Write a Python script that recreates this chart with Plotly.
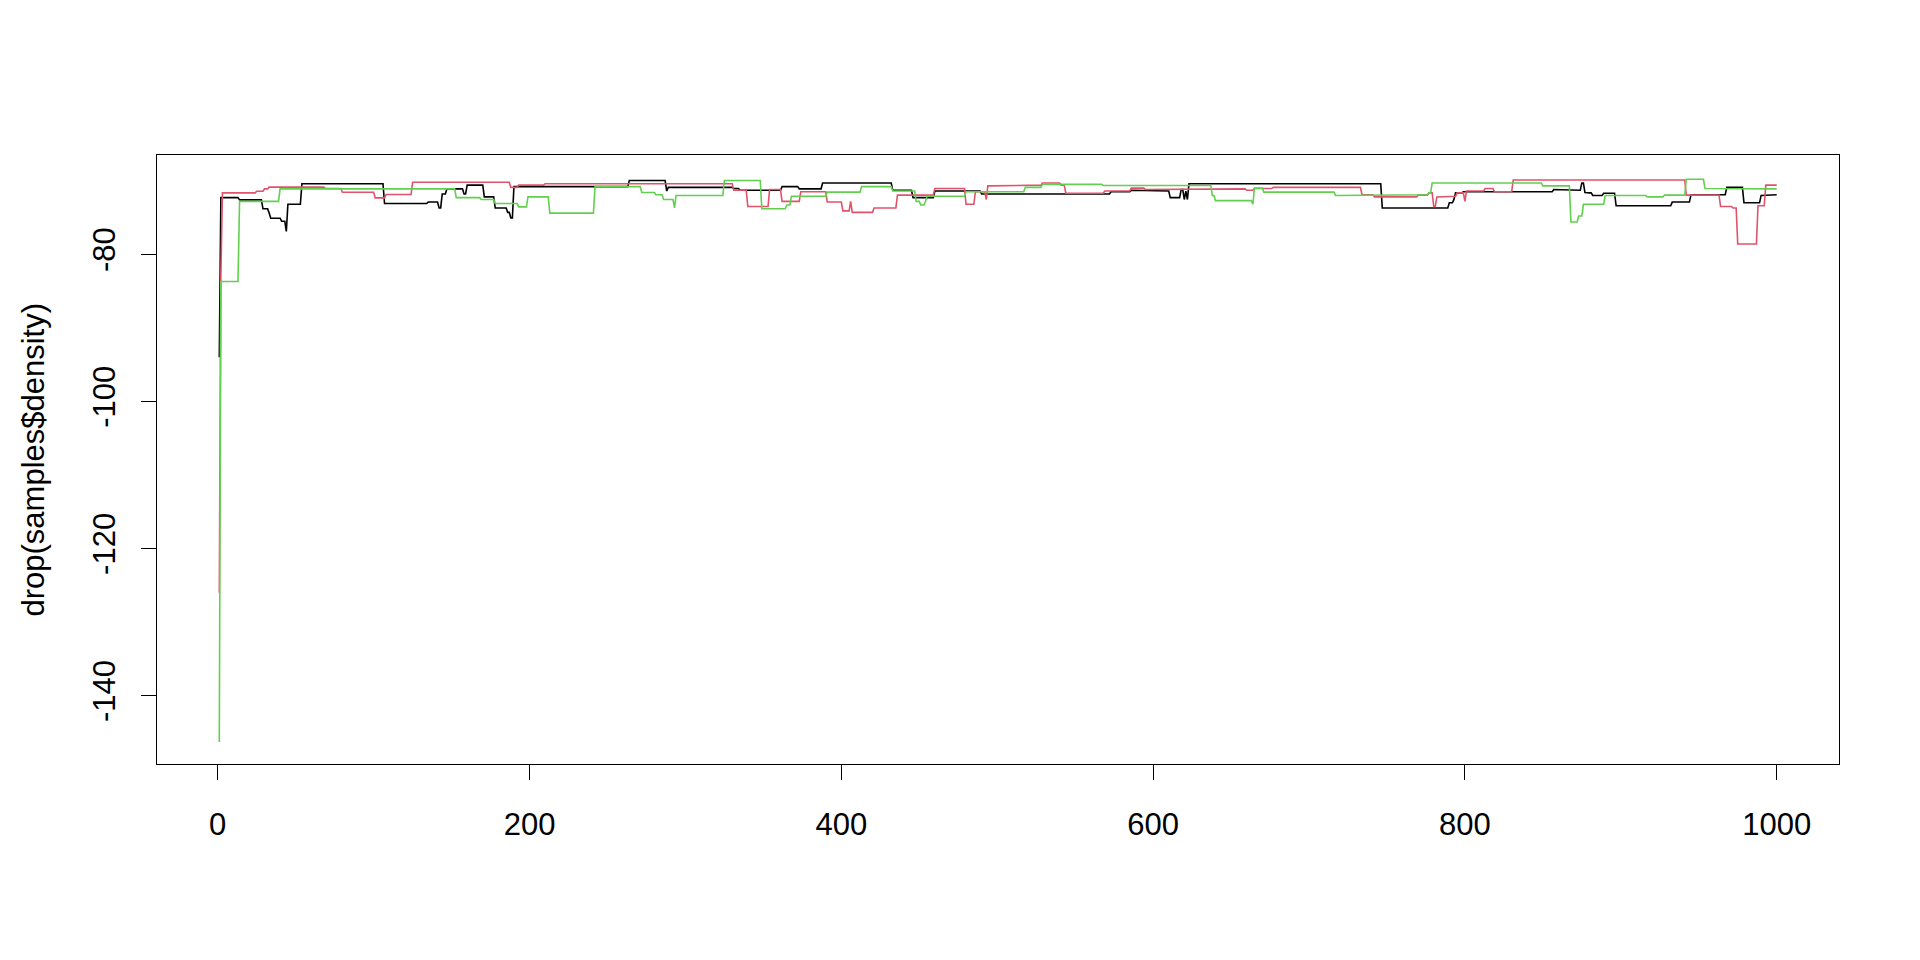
import numpy as np
import plotly.graph_objects as go

# ---- data (step runs: first index of each run and its value) ----
n_samples = 1000

black_start = [1, 2, 14, 29, 33, 34, 41, 44, 45, 54, 107, 135, 142, 144, 147, 158, 160, 171,
               178, 186, 188, 190, 264, 288, 289, 331, 335, 362, 373, 388, 433, 446, 460, 490,
               573, 586, 604, 611, 618, 620, 621, 622, 623, 747, 790, 793, 794, 799, 857, 871,
               875, 877, 878, 882, 889, 897, 933, 945, 968, 979, 990, 994]
black_value = [-94.0, -72.3, -72.6, -73.8, -74.4, -75.1, -75.5, -76.9, -73.2, -70.4, -73.1, -72.9,
               -73.7, -71.8, -71.1, -71.8, -70.6, -72.2, -73.7, -74.3, -75.05, -70.8, -69.97,
               -71.4, -70.9, -71.06, -71.3, -70.8, -71.1, -70.3, -71.3, -72.3, -71.4, -71.8,
               -71.5, -71.3, -71.4, -72.3, -71.2, -72.55, -71.4, -72.55, -70.4, -73.7, -73.0,
               -72.5, -71.65, -71.5, -71.2, -71.3, -70.3, -71.6, -71.65, -72.0, -71.7, -73.4,
               -72.9, -71.9, -70.9, -73.0, -72.0, -71.9]

red_start = [1, 2, 3, 25, 30, 33, 69, 80, 101, 108, 125, 188, 193, 210, 331, 340, 354, 362, 374,
             391, 401, 406, 407, 421, 436, 460, 480, 486, 493, 494, 519, 529, 541, 544, 569, 586,
             595, 624, 660, 665, 677, 734, 742, 770, 777, 780, 782, 785, 795, 800, 801, 813, 819,
             831, 942, 964, 972, 975, 988, 993]
red_value = [-126.0, -83.0, -71.65, -71.42, -71.1, -70.87, -71.06, -71.56, -72.33, -71.87, -70.2,
             -70.9, -70.6, -70.4, -71.3, -73.5, -71.2, -72.8, -71.5, -72.9, -74.1, -72.8, -74.3,
             -73.7, -71.96, -71.06, -73.2, -71.5, -72.55, -70.7, -70.6, -70.3, -70.6, -71.7,
             -71.4, -71.0, -71.2, -71.1, -71.3, -71.06, -70.9, -71.9, -72.2, -71.96, -71.65,
             -73.5, -72.2, -72.1, -71.65, -72.8, -71.4, -71.06, -71.5, -69.9, -71.96, -73.5,
             -73.7, -78.6, -73.4, -70.6]

green_start = [1, 2, 14, 40, 153, 169, 178, 193, 199, 213, 242, 272, 281, 286, 293, 294, 325, 349,
               365, 368, 391, 413, 433, 448, 451, 454, 455, 480, 518, 529, 568, 638, 640, 664, 665,
               671, 717, 770, 777, 779, 850, 868, 873, 876, 890, 917, 928, 942, 954, 993]
green_value = [-146.3, -83.7, -72.8, -71.1, -72.3, -72.55, -73.1, -73.55, -72.2, -74.4, -70.8,
               -71.6, -71.9, -72.55, -73.7, -72.0, -69.97, -73.8, -73.3, -72.1, -71.55, -70.8,
               -71.4, -72.8, -73.3, -72.8, -72.1, -71.5, -70.9, -70.5, -70.65, -72.0, -72.7,
               -73.2, -71.0, -71.55, -72.0, -71.9, -71.65, -70.3, -70.7, -75.6, -74.8, -73.2,
               -72.0, -72.2, -71.96, -69.8, -71.06, -71.1]

series_names = ["black", "red", "green"]
series_colors = ["#000000", "#DF536B", "#61D04F"]
x_ticks = [0, 200, 400, 600, 800, 1000]
x_tick_labels = ["0", "200", "400", "600", "800", "1000"]
y_ticks = [-140, -120, -100, -80]
y_tick_labels = ["-140", "-120", "-100", "-80"]
y_title = "drop(samples$density)"


def expand(starts, values, n):
    idx = np.arange(1, n + 1)
    pos = np.searchsorted(np.asarray(starts), idx, side="right") - 1
    return idx, np.asarray(values)[pos]


runs = [(black_start, black_value), (red_start, red_value), (green_start, green_value)]

fig = go.Figure()
for (st, vals), name, col in zip(runs, series_names, series_colors):
    x, y = expand(st, vals, n_samples)
    fig.add_trace(go.Scatter(x=x, y=y, mode="lines", name=name,
                             line=dict(color=col, width=1.6), showlegend=False,
                             hoverinfo="skip"))

font_family = "Liberation Sans, Arial, Helvetica, sans-serif"
axis_common = dict(showgrid=False, zeroline=False, showline=True, mirror=True,
                   linecolor="black", linewidth=1, ticks="outside", ticklen=15,
                   tickwidth=1, tickcolor="black",
                   tickfont=dict(family=font_family, size=31, color="black"))

fig.update_layout(
    width=1920, height=960,
    margin=dict(l=157, r=81, t=155, b=196),
    paper_bgcolor="white", plot_bgcolor="white",
    xaxis=dict(range=[-38.96, 1039.96], tickmode="array", tickvals=x_ticks,
               ticktext=x_tick_labels, ticklabelstandoff=18, **axis_common),
    yaxis=dict(range=[-149.3, -66.5], tickmode="array", tickvals=y_ticks,
               ticktext=y_tick_labels, tickangle=-90, ticklabelstandoff=14, **axis_common),
    annotations=[dict(text=y_title, xref="paper", yref="paper", x=-0.0737, y=0.5,
                      xanchor="center", yanchor="middle", textangle=-90, showarrow=False,
                      font=dict(family=font_family, size=31, color="black"))],
)

fig.write_html("out.html", config={"displayModeBar": False},
               post_script="document.body.style.margin='0';")
